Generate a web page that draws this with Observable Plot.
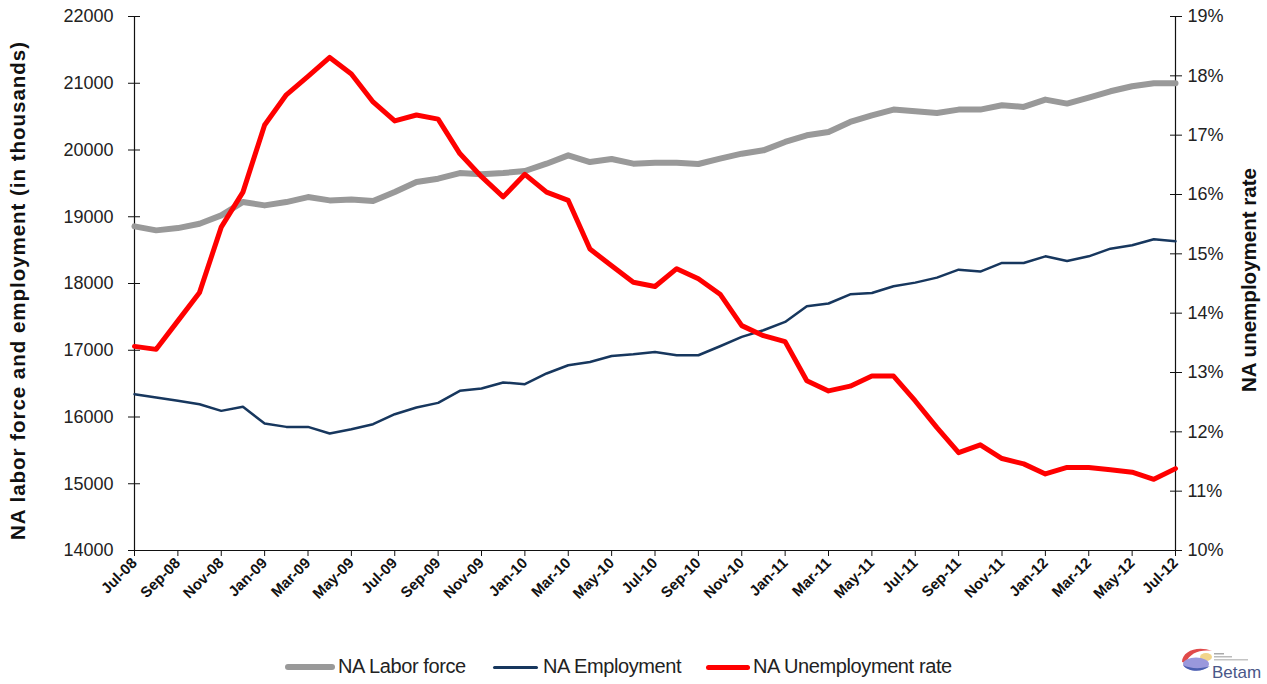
<!DOCTYPE html>
<html>
<head>
<meta charset="utf-8">
<script src="https://cdn.jsdelivr.net/npm/d3@7"></script>
<script src="https://cdn.jsdelivr.net/npm/@observablehq/plot@0.6"></script>
<style>
  html, body { margin: 0; padding: 0; background: #fff; }
  #wrap { position: relative; width: 1267px; height: 684px; overflow: hidden; font-family: "Liberation Sans", Arial, sans-serif; }
  #legend { position: absolute; left: 0; top: 652px; width: 1267px; height: 30px; font-family: "Liberation Sans", Arial, sans-serif; font-size: 20px; letter-spacing: -0.4px; color: #222; }
  .sw { position: absolute; border-radius: 3px; }
  .lt { position: absolute; top: 2px; white-space: nowrap; line-height: 24px; }
  #logo { position: absolute; left: 1170px; top: 634px; width: 97px; height: 46px; overflow: visible; }
</style>
</head>
<body>
<div id="wrap">
  <div id="chart"></div>
  <div id="legend"></div>
  <svg id="logo" viewBox="0 0 97 46">
    <path d="M12 28 C 12 17, 28 11, 42 17 C 31 15, 19 19, 16 29 Z" fill="#e04a4a"/>
    <ellipse cx="36" cy="23" rx="6" ry="4" fill="#f2d58a"/>
    <ellipse cx="26" cy="30" rx="13" ry="6.5" fill="#9a98dc"/>
    <path d="M13 31 C 18 38, 32 39, 40 32 C 32 35, 20 35, 13 31 Z" fill="#4b5fb0"/>
    <rect x="44" y="19" width="10" height="1.5" fill="#aaa"/>
    <rect x="44" y="22" width="18" height="1.5" fill="#bbb"/>
    <rect x="44" y="25" width="34" height="1.5" fill="#c4c4c4"/>
    <text x="42" y="44" font-family="Liberation Sans, Arial, sans-serif" font-size="17" fill="#4a5788">Betam</text>
  </svg>
</div>
<script>
// ---- data ----
const months = ["Jul-08","Aug-08","Sep-08","Oct-08","Nov-08","Dec-08","Jan-09","Feb-09","Mar-09","Apr-09","May-09","Jun-09",
  "Jul-09","Aug-09","Sep-09","Oct-09","Nov-09","Dec-09","Jan-10","Feb-10","Mar-10","Apr-10","May-10","Jun-10",
  "Jul-10","Aug-10","Sep-10","Oct-10","Nov-10","Dec-10","Jan-11","Feb-11","Mar-11","Apr-11","May-11","Jun-11",
  "Jul-11","Aug-11","Sep-11","Oct-11","Nov-11","Dec-11","Jan-12","Feb-12","Mar-12","Apr-12","May-12","Jun-12","Jul-12"];
const laborForce = [18856,18796,18830,18896,19020,19220,19170,19220,19295,19245,19260,19235,
  19370,19520,19570,19655,19635,19655,19685,19795,19920,19820,19865,19795,
  19810,19810,19790,19870,19945,19995,20120,20220,20270,20420,20520,20605,
  20580,20555,20605,20605,20670,20645,20755,20695,20785,20880,20955,21000,21000];
const employment = [16341,16292,16242,16192,16092,16152,15902,15852,15852,15752,15817,15892,
  16042,16142,16212,16392,16427,16517,16492,16652,16775,16825,16915,16940,
  16975,16925,16925,17060,17200,17300,17424,17659,17700,17838,17858,17958,
  18013,18088,18207,18178,18308,18308,18407,18337,18407,18522,18572,18662,18632];
const unemploymentRate = [13.44,13.39,13.87,14.35,15.45,16.04,17.17,17.68,17.99,18.31,18.03,17.56,
  17.24,17.34,17.27,16.69,16.30,15.96,16.34,16.04,15.90,15.08,14.80,14.52,
  14.45,14.75,14.58,14.32,13.79,13.62,13.52,12.86,12.69,12.77,12.94,12.94,
  12.52,12.07,11.65,11.78,11.55,11.46,11.29,11.40,11.40,11.36,11.32,11.20,11.38];
const leftTicks = [14000,15000,16000,17000,18000,19000,20000,21000,22000];
const rightTicks = [10,11,12,13,14,15,16,17,18,19];
const seriesNames = ["NA Labor force","NA Employment","NA Unemployment rate"];
const seriesColors = ["#999999","#17375e","#ff0000"];
const seriesWidths = [6, 2.5, 5];

// ---- mapping of the right (rate) axis onto the left scale ----
const L0 = 14000, L1 = 22000, R0 = 10, R1 = 19;
const toLeft = r => L0 + (r - R0) * (L1 - L0) / (R1 - R0);
const fromLeft = v => R0 + (v - L0) * (R1 - R0) / (L1 - L0);

const rows = months.map((m, i) => ({i, m, lf: laborForce[i], emp: employment[i], rate: toLeft(unemploymentRate[i])}));
const xTicks = months.map((m, i) => i).filter(i => i % 2 === 0);

const chart = Plot.plot({
  width: 1267,
  height: 645,
  marginLeft: 134,
  marginRight: 92,
  marginTop: 16,
  marginBottom: 95,
  style: {fontFamily: "'Liberation Sans', Arial, sans-serif", background: "#fff", color: "#111"},
  x: {type: "linear", domain: [0, months.length - 1]},
  y: {domain: [L0, L1]},
  marks: [
    Plot.axisY({anchor: "left", ticks: leftTicks, tickFormat: d => String(d), tickSize: 12, dx: 6, tickPadding: 15, fontSize: 18, fill: "#222", label: null}),
    Plot.axisY({anchor: "right", ticks: rightTicks.map(toLeft), tickFormat: d => Math.round(fromLeft(d)) + "%", tickSize: 12, dx: -6, tickPadding: 6, fontSize: 18, fill: "#222", label: null}),
    Plot.axisX({ticks: xTicks, tickFormat: i => months[i], tickRotate: -45, tickSize: 6, tickPadding: 4, fontSize: 15, fontWeight: "bold", fill: "#111", label: null}),
    Plot.ruleX([0, months.length - 1], {stroke: "#111", strokeWidth: 1.2}),
    Plot.ruleY([L0], {stroke: "#111", strokeWidth: 1.2}),
    Plot.line(rows, {x: "i", y: "lf", stroke: seriesColors[0], strokeWidth: seriesWidths[0], strokeLinejoin: "round"}),
    Plot.line(rows, {x: "i", y: "emp", stroke: seriesColors[1], strokeWidth: seriesWidths[1], strokeLinejoin: "round"}),
    Plot.line(rows, {x: "i", y: "rate", stroke: seriesColors[2], strokeWidth: seriesWidths[2], strokeLinejoin: "round"})
  ]
});

// axis titles
const svg = d3.select(chart);
svg.append("text")
  .attr("transform", "translate(25,291) rotate(-90)")
  .attr("text-anchor", "middle")
  .attr("font-size", 20.5).attr("font-weight", "bold").attr("fill", "#111")
  .attr("font-family", "'Liberation Sans', Arial, sans-serif")
  .attr("textLength", 498).attr("lengthAdjust", "spacing")
  .text("NA labor force and employment (in thousands)");
svg.append("text")
  .attr("transform", "translate(1256,280) rotate(-90)")
  .attr("text-anchor", "middle")
  .attr("font-size", 20.5).attr("font-weight", "bold").attr("fill", "#111")
  .attr("font-family", "'Liberation Sans', Arial, sans-serif")
  .attr("textLength", 224).attr("lengthAdjust", "spacing")
  .text("NA unemployment rate");

document.getElementById("chart").appendChild(chart);

// legend (positions of swatches/labels as in the reference)
const legendLayout = [
  {sw: 285, swW: 50, tx: 338},
  {sw: 493, swW: 45, tx: 543},
  {sw: 706, swW: 44, tx: 753}
];
const legend = d3.select("#legend");
seriesNames.forEach((name, k) => {
  const p = legendLayout[k];
  const h = Math.max(seriesWidths[k], 3);
  legend.append("div").attr("class", "sw")
    .style("left", p.sw + "px").style("width", p.swW + "px")
    .style("top", (15 - h / 2) + "px").style("height", h + "px")
    .style("background", seriesColors[k]);
  legend.append("div").attr("class", "lt").style("left", p.tx + "px").text(name);
});
</script>
</body>
</html>
